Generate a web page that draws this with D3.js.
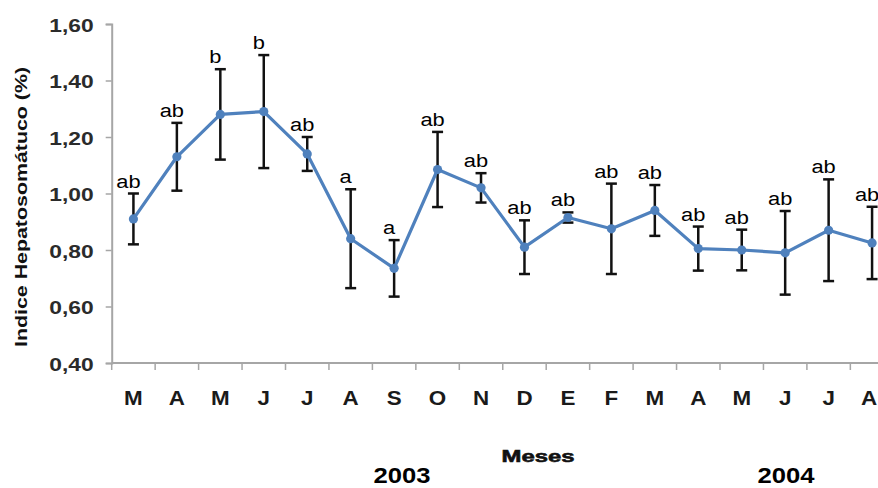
<!DOCTYPE html>
<html>
<head>
<meta charset="utf-8">
<script src="https://cdn.jsdelivr.net/npm/d3@7"></script>
<style>
  html, body { margin: 0; padding: 0; background: #fff; }
  svg { display: block; font-family: "Liberation Sans", Arial, sans-serif; }
</style>
</head>
<body>
<svg id="chart" width="878" height="488"></svg>
<script>
// Monthly hepatosomatic index, March 2003 – August 2004
const months  = ["M","A","M","J","J","A","S","O","N","D","E","F","M","A","M","J","J","A"];
const ihs     = [0.91,1.13,1.28,1.29,1.14,0.84,0.735,1.085,1.02,0.81,0.915,0.875,0.94,0.805,0.80,0.79,0.87,0.825];
const sdev    = [0.09,0.12,0.16,0.20,0.06,0.175,0.10,0.133,0.052,0.095,0.018,0.16,0.09,0.078,0.072,0.148,0.18,0.128];
const letters = ["ab","ab","b","b","ab","a","a","ab","ab","ab","ab","ab","ab","ab","ab","ab","ab","ab"];
const yTicks  = [0.4,0.6,0.8,1.0,1.2,1.4,1.6];
const years   = ["2003","2004"];

const svg = d3.select("#chart");
const plotLeft = 111.7, plotTop = 24, plotBottom = 363, step = 43.45;

const x = d3.scaleBand()
  .domain(d3.range(months.length))
  .range([plotLeft, plotLeft + step * months.length])
  .paddingInner(0).paddingOuter(0);
const xc = i => x(i) + x.bandwidth() / 2;

const y = d3.scaleLinear().domain([0.4, 1.6]).range([plotBottom, plotTop]);
const fmt = v => d3.format(".2f")(v).replace(".", ",");

// Y axis
const yAxis = svg.append("g")
  .attr("transform", `translate(${plotLeft},0)`)
  .call(d3.axisLeft(y).tickValues(yTicks).tickSize(6).tickFormat(fmt));
yAxis.select(".domain").attr("stroke", "#a6a6a6").attr("stroke-width", 2);
yAxis.selectAll(".tick line").attr("stroke", "#a6a6a6").attr("stroke-width", 1.5);
yAxis.selectAll(".tick text").remove();
yAxis.selectAll(".tick").append("text")
  .attr("transform", "translate(-18,7) scale(1.2,1)")
  .attr("text-anchor", "end")
  .attr("font-size", 19).attr("font-weight", "bold")
  .attr("fill", "#2b2b2b")
  .text(d => fmt(d));

// X axis (ticks at band boundaries, labels centred in each band)
const xAxis = svg.append("g").attr("transform", `translate(0,${plotBottom})`);
xAxis.append("line")
  .attr("x1", plotLeft).attr("x2", plotLeft + step * months.length)
  .attr("stroke", "#a6a6a6").attr("stroke-width", 2);
xAxis.selectAll("line.tk")
  .data(d3.range(months.length + 1))
  .join("line").attr("class", "tk")
  .attr("x1", i => plotLeft + i * step).attr("x2", i => plotLeft + i * step)
  .attr("y1", 0).attr("y2", 7)
  .attr("stroke", "#a6a6a6").attr("stroke-width", 1.5);
xAxis.selectAll("text")
  .data(months)
  .join("text")
  .attr("transform", (d, i) => `translate(${Math.min(xc(i), 869)},42) scale(1.12,1)`)
  .attr("text-anchor", "middle")
  .attr("font-size", 20).attr("font-weight", "bold")
  .attr("fill", "#1a1a1a")
  .text(d => d);

// Error bars
const eb = svg.append("g").attr("stroke", "#111").attr("stroke-width", 2.5);
ihs.forEach((v, i) => {
  const cx = xc(i), y1 = y(v + sdev[i]), y0 = y(v - sdev[i]);
  eb.append("line").attr("x1", cx).attr("x2", cx).attr("y1", y1).attr("y2", y0);
  eb.append("line").attr("x1", cx - 5.5).attr("x2", cx + 5.5).attr("y1", y1).attr("y2", y1);
  eb.append("line").attr("x1", cx - 5.5).attr("x2", cx + 5.5).attr("y1", y0).attr("y2", y0);
});

// Mean line and markers
const line = d3.line().x((d, i) => xc(i)).y(d => y(d));
svg.append("path")
  .datum(ihs)
  .attr("d", line)
  .attr("fill", "none")
  .attr("stroke", "#4f81bd")
  .attr("stroke-width", 3.2)
  .attr("stroke-linejoin", "round");
svg.selectAll("circle.pt")
  .data(ihs)
  .join("circle").attr("class", "pt")
  .attr("cx", (d, i) => xc(i))
  .attr("cy", d => y(d))
  .attr("r", 4.6)
  .attr("fill", "#4f81bd");

// Significance letters above each error bar
svg.selectAll("text.sig")
  .data(letters)
  .join("text").attr("class", "sig")
  .attr("transform", (d, i) => `translate(${xc(i) - 5},${y(ihs[i] + sdev[i]) - 6}) scale(1.15,1)`)
  .attr("text-anchor", "middle")
  .attr("font-size", 19)
  .attr("fill", "#000")
  .text(d => d);

// Axis titles
svg.append("text")
  .attr("transform", "translate(27,207) rotate(-90)")
  .attr("text-anchor", "middle")
  .attr("font-size", 16).attr("font-weight", "bold")
  .attr("textLength", 280).attr("lengthAdjust", "spacingAndGlyphs")
  .attr("fill", "#111")
  .text("Indice Hepatosomátuco (%)");

svg.append("text")
  .attr("x", 538).attr("y", 462)
  .attr("text-anchor", "middle")
  .attr("font-size", 17).attr("font-weight", "bold")
  .attr("textLength", 73).attr("lengthAdjust", "spacingAndGlyphs")
  .attr("fill", "#111")
  .attr("stroke", "#111").attr("stroke-width", 0.6)
  .text("Meses");

svg.selectAll("text.year")
  .data(years)
  .join("text").attr("class", "year")
  .attr("x", (d, i) => [402, 786][i]).attr("y", 483)
  .attr("text-anchor", "middle")
  .attr("font-size", 22).attr("font-weight", "bold")
  .attr("textLength", 57).attr("lengthAdjust", "spacingAndGlyphs")
  .attr("fill", "#000")
  .text(d => d);
</script>
</body>
</html>
